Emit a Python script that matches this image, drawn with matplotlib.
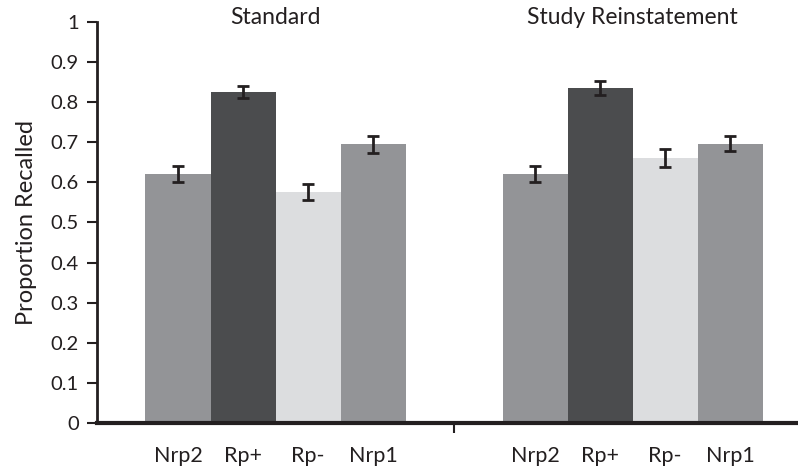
import numpy as np
import matplotlib
matplotlib.use("Agg")
import matplotlib.pyplot as plt

plt.rcParams["font.family"] = ["Lato", "DejaVu Sans"]

# ----------------------------
# Data
# ----------------------------
groups = ["Standard", "Study Reinstatement"]
conditions = ["Nrp2", "Rp+", "Rp-", "Nrp1"]

standard_means = [0.621, 0.825, 0.576, 0.695]
standard_err = [0.021, 0.015, 0.019, 0.021]

reinstate_means = [0.621, 0.835, 0.661, 0.697]
reinstate_err = [0.021, 0.017, 0.022, 0.019]

bar_colors = ["#939497", "#4b4c4e", "#dcdddf", "#939497"]
ink = "#231f20"

# ----------------------------
# Figure
# ----------------------------
fig = plt.figure(figsize=(7.98, 4.67), dpi=100)
ax = fig.add_axes([97 / 798, 1 - 423 / 467, 714 / 798, 401 / 467])

bar_w = 65 / 357
offsets = (np.arange(len(conditions)) - 1.5) * bar_w

all_means = [standard_means, reinstate_means]
all_err = [standard_err, reinstate_err]

for g, (means, errs) in enumerate(zip(all_means, all_err)):
    xs = g + offsets
    ax.bar(xs, means, width=bar_w, color=bar_colors, edgecolor="none", zorder=2)
    ax.errorbar(xs, means, yerr=errs, fmt="none", ecolor=ink, elinewidth=2,
                capsize=4, capthick=2, zorder=3)
    for x, name in zip(xs, conditions):
        ax.text(x, -0.082, name, ha="center", va="center", fontsize=15.5,
                color=ink, clip_on=False)
    ax.text(g, 1.01, groups[g], ha="center", va="center", fontsize=16.5,
            color=ink, clip_on=False)

ax.set_xlim(-0.5, 1.5)
ax.set_ylim(0, 1)
ax.set_yticks(np.arange(0, 1.01, 0.1))
ax.set_yticklabels(["0", "0.1", "0.2", "0.3", "0.4", "0.5", "0.6", "0.7",
                    "0.8", "0.9", "1"])
ax.set_xticks([0.5])
ax.set_xticklabels([""])
ax.tick_params(axis="y", direction="out", length=7, width=1.5, colors=ink,
               labelsize=14.5, pad=6)
ax.tick_params(axis="x", direction="out", length=7, width=1.5, colors=ink)

ax.set_ylabel("Proportion Recalled", fontsize=17, color=ink, labelpad=10)

for side in ["top", "right"]:
    ax.spines[side].set_visible(False)
ax.spines["left"].set_linewidth(2)
ax.spines["left"].set_color(ink)
ax.spines["bottom"].set_linewidth(3)
ax.spines["bottom"].set_color(ink)
ax.spines["bottom"].set_zorder(4)

fig.savefig("out.png", dpi=100)
